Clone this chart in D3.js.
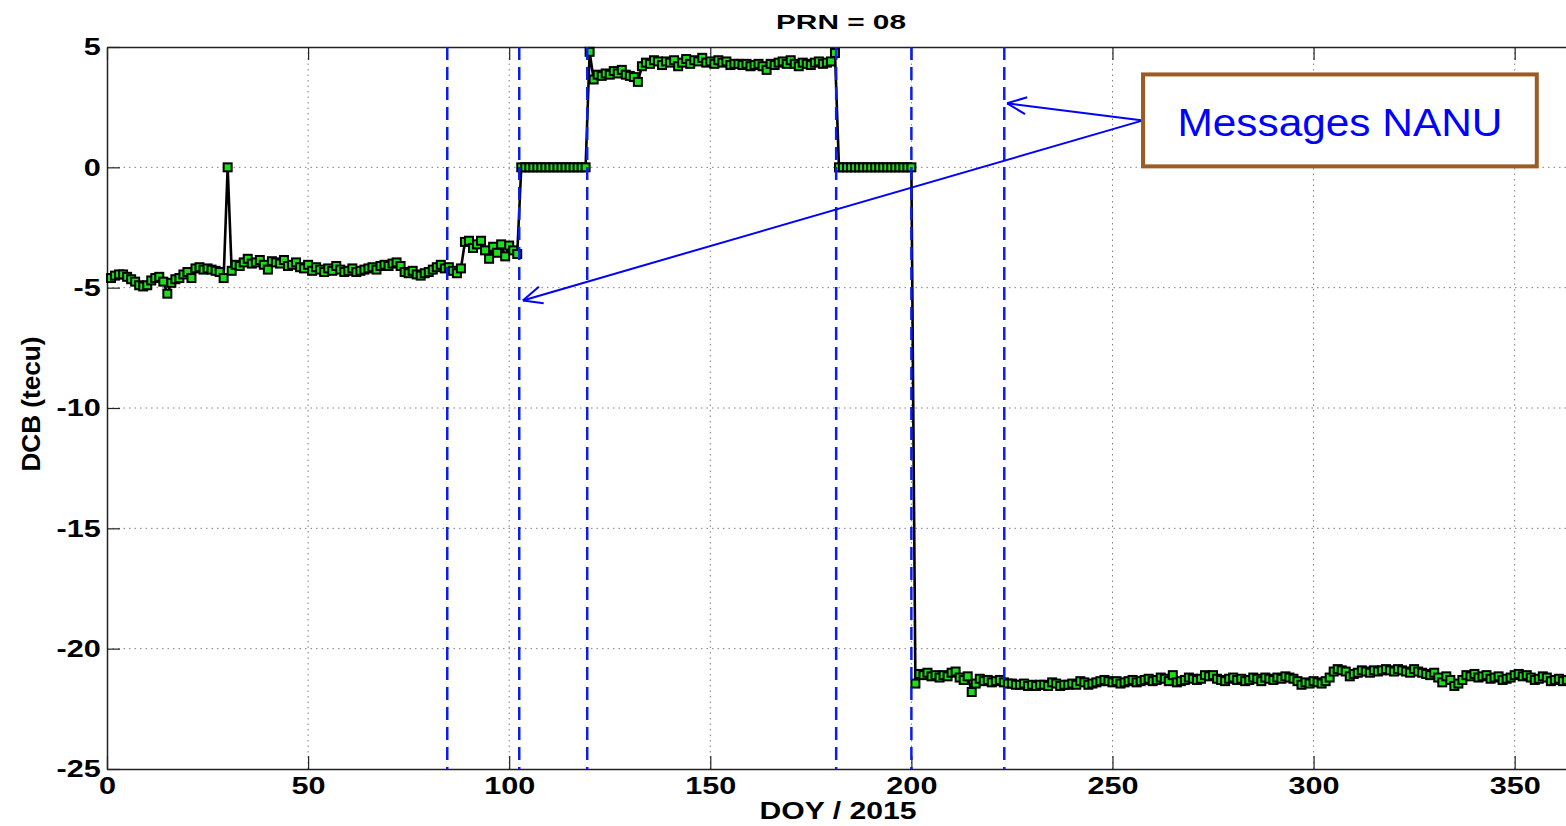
<!DOCTYPE html>
<html>
<head>
<meta charset="utf-8">
<script src="https://cdn.jsdelivr.net/npm/d3@7"></script>
<style>
html, body { margin: 0; padding: 0; background: #fff; overflow: hidden; }
svg { display: block; font-family: "Liberation Sans", Arial, sans-serif; }
</style>
</head>
<body>
<svg id="dcb-vis" width="1566" height="826"></svg>
<script>
// DCB of PRN 08, one value per day of year, starting at DOY 1
const firstDoy = 1;
const dcbValues = [
    -4.60, -4.50, -4.45, -4.45, -4.55, -4.65, -4.75, -4.90, -4.95, -4.90,   // 1-10
    -4.70, -4.60, -4.55, -4.75, -5.25, -4.80, -4.65, -4.60, -4.45, -4.35,   // 11-20
    -4.60, -4.20, -4.15, -4.25, -4.20, -4.25, -4.30, -4.35, -4.60, 0.00,    // 21-30
    -4.30, -4.05, -4.10, -3.95, -3.80, -4.00, -3.95, -3.85, -4.05, -4.25,   // 31-40
    -3.90, -3.95, -4.00, -3.85, -4.10, -4.05, -3.95, -4.15, -4.20, -4.05,   // 41-50
    -4.30, -4.15, -4.25, -4.35, -4.20, -4.30, -4.10, -4.25, -4.35, -4.30,   // 51-60
    -4.20, -4.35, -4.30, -4.25, -4.20, -4.15, -4.25, -4.10, -4.05, -4.10,   // 61-70
    -4.00, -3.95, -4.10, -4.35, -4.40, -4.30, -4.45, -4.50, -4.40, -4.35,   // 71-80
    -4.25, -4.15, -4.05, -4.20, -4.15, -4.30, -4.40, -4.20, -3.10, -3.05,   // 81-90
    -3.35, -3.20, -3.05, -3.45, -3.80, -3.30, -3.55, -3.20, -3.70, -3.25,   // 91-100
    -3.45, -3.60, 0, 0, 0, 0, 0, 0, 0, 0,                                   // 101-110
    0, 0, 0, 0, 0, 0, 0, 0, 0, 4.80,                                        // 111-120
    3.65, 3.85, 3.80, 3.90, 3.85, 4.00, 3.90, 4.05, 3.85, 3.80,             // 121-130
    3.75, 3.55, 4.20, 4.35, 4.30, 4.45, 4.40, 4.25, 4.40, 4.35,             // 131-140
    4.45, 4.20, 4.35, 4.50, 4.30, 4.45, 4.40, 4.55, 4.35, 4.40,             // 141-150
    4.30, 4.45, 4.35, 4.40, 4.25, 4.30, 4.30, 4.25, 4.30, 4.20,             // 151-160
    4.25, 4.30, 4.20, 4.05, 4.30, 4.25, 4.35, 4.40, 4.30, 4.45,             // 161-170
    4.30, 4.20, 4.35, 4.30, 4.25, 4.35, 4.40, 4.30, 4.35, 4.40,             // 171-180
    4.75, 0, 0, 0, 0, 0, 0, 0, 0, 0,                                        // 181-190
    0, 0, 0, 0, 0, 0, 0, 0, 0, 0,                                           // 191-200
    -21.45, -21.05, -21.10, -21.00, -21.15, -21.10, -21.20, -21.10, -21.15, -21.00, // 201-210
    -20.95, -21.20, -21.30, -21.15, -21.80, -21.45, -21.25, -21.35, -21.30, -21.40, // 211-220
    -21.35, -21.30, -21.40, -21.45, -21.45, -21.50, -21.50, -21.45, -21.55, -21.50, // 221-230
    -21.55, -21.50, -21.50, -21.55, -21.40, -21.45, -21.55, -21.50, -21.50, -21.45, // 231-240
    -21.50, -21.35, -21.40, -21.50, -21.45, -21.40, -21.35, -21.30, -21.35, -21.40, // 241-250
    -21.35, -21.45, -21.40, -21.35, -21.30, -21.40, -21.35, -21.30, -21.25, -21.35, // 251-260
    -21.30, -21.20, -21.25, -21.35, -21.10, -21.40, -21.35, -21.30, -21.20, -21.25, // 261-270
    -21.30, -21.25, -21.10, -21.15, -21.10, -21.25, -21.30, -21.35, -21.25, -21.20, // 271-280
    -21.30, -21.25, -21.35, -21.30, -21.20, -21.25, -21.35, -21.20, -21.25, -21.30, // 281-290
    -21.20, -21.25, -21.15, -21.20, -21.25, -21.35, -21.50, -21.40, -21.45, -21.35, // 291-300
    -21.40, -21.45, -21.35, -21.20, -20.95, -20.85, -20.90, -20.95, -21.15, -21.05, // 301-310
    -21.00, -20.90, -20.95, -21.00, -20.90, -20.95, -20.90, -20.85, -20.90, -20.95, // 311-320
    -20.85, -20.90, -20.95, -21.00, -20.85, -20.95, -21.00, -21.05, -21.10, -21.00, // 321-330
    -21.20, -21.40, -21.15, -21.30, -21.55, -21.45, -21.30, -21.10, -21.15, -21.05, // 331-340
    -21.20, -21.15, -21.10, -21.25, -21.20, -21.15, -21.30, -21.25, -21.20, -21.10, // 341-350
    -21.05, -21.15, -21.10, -21.20, -21.30, -21.25, -21.15, -21.20, -21.35, -21.30, // 351-360
    -21.25, -21.35, -21.30, -21.35, -21.30                                          // 361-365
];

// days of the NANU messages (blue dashed lines)
const nanuDays = [84.6, 102.5, 119.4, 181.3, 200, 223.1];

const xTicks = [0, 50, 100, 150, 200, 250, 300, 350];
const yTicks = [-25, -20, -15, -10, -5, 0, 5];
const xDomain = [0, 365];
const yDomain = [-25, 5];

const titleText = "PRN = 08";
const xLabel = "DOY / 2015";
const yLabel = "DCB (tecu)";
const noteText = "Messages NANU";

// annotation box corners and arrow tips, in data units
const noteBox = { x0: 257.6, x1: 355.5, y0: 3.86, y1: 0.04 };
const noteAnchor = [257.6, 1.95];
const arrowTips = [[223.8, 2.66], [103.4, -5.53]];

const svg = d3.select("svg#dcb-vis");
const bounds = { minX: 107, maxX: 1575, minY: 47, maxY: 769 };

const scaleX = d3.scaleLinear().domain(xDomain).range([bounds.minX, bounds.maxX]);
const scaleY = d3.scaleLinear().domain(yDomain).range([bounds.maxY, bounds.minY]);

const data = dcbValues.map((v, i) => ({ doy: firstDoy + i, dcb: v }));

// grid
const grid = svg.append("g").attr("class", "grid")
    .attr("stroke", "#808080").attr("stroke-width", 1).attr("stroke-dasharray", "1.5,4");
grid.selectAll("line.gx").data(xTicks.filter(d => d > xDomain[0]))
    .join("line").attr("class", "gx")
    .attr("x1", d => scaleX(d)).attr("x2", d => scaleX(d))
    .attr("y1", bounds.minY).attr("y2", bounds.maxY);
grid.selectAll("line.gy").data(yTicks.filter(d => d > yDomain[0] && d < yDomain[1]))
    .join("line").attr("class", "gy")
    .attr("y1", d => scaleY(d)).attr("y2", d => scaleY(d))
    .attr("x1", bounds.minX).attr("x2", bounds.maxX);

// axes
const fmt = d => String(d);
function styleAxis(g) {
    g.attr("font-family", null).attr("font-size", null);
    g.select(".domain").attr("stroke", "#222").attr("stroke-width", 1.5);
    g.selectAll(".tick line").attr("stroke", "#222").attr("stroke-width", 1.2);
    g.selectAll(".tick text")
        .attr("fill", "#000").attr("font-weight", "bold").attr("font-size", 24.5)
        .attr("transform", "scale(1.25,1)");
}

const xAxisG = svg.append("g").attr("transform", `translate(0 ${bounds.maxY})`)
    .call(d3.axisBottom(scaleX).tickValues(xTicks).tickSize(-13).tickSizeOuter(0).tickPadding(8).tickFormat(fmt));
styleAxis(xAxisG);

const topAxisG = svg.append("g").attr("transform", `translate(0 ${bounds.minY})`)
    .call(d3.axisTop(scaleX).tickValues(xTicks).tickSize(-13).tickSizeOuter(0).tickFormat(""));
styleAxis(topAxisG);

const yAxisG = svg.append("g").attr("transform", `translate(${bounds.minX} 0)`)
    .call(d3.axisLeft(scaleY).tickValues(yTicks).tickSize(-13).tickSizeOuter(0).tickPadding(5).tickFormat(fmt));
styleAxis(yAxisG);

// data line + markers
const line = d3.line().x(d => scaleX(d.doy)).y(d => scaleY(d.dcb));
svg.append("path").datum(data)
    .attr("fill", "none").attr("stroke", "#000").attr("stroke-width", 2.6)
    .attr("stroke-linejoin", "round")
    .attr("d", line);

const ms = 8;
svg.append("g").selectAll("rect").data(data).join("rect")
    .attr("x", d => scaleX(d.doy) - ms / 2)
    .attr("y", d => scaleY(d.dcb) - ms / 2)
    .attr("width", ms).attr("height", ms)
    .attr("fill", "#19e019").attr("stroke", "#000").attr("stroke-width", 2);

// NANU dashed lines
svg.append("g").selectAll("line").data(nanuDays).join("line")
    .attr("x1", d => scaleX(d)).attr("x2", d => scaleX(d))
    .attr("y1", bounds.minY).attr("y2", bounds.maxY)
    .attr("stroke", "#0a1cf0").attr("stroke-width", 2.5).attr("stroke-dasharray", "13,7");

// title and labels
svg.append("text").text(titleText)
    .attr("x", (bounds.minX + bounds.maxX) / 2).attr("y", 29)
    .attr("text-anchor", "middle").attr("font-weight", "bold").attr("font-size", 21)
    .attr("textLength", 130).attr("lengthAdjust", "spacingAndGlyphs");

svg.append("text").text(xLabel)
    .attr("x", 838).attr("y", 819)
    .attr("text-anchor", "middle").attr("font-weight", "bold").attr("font-size", 24)
    .attr("textLength", 157).attr("lengthAdjust", "spacingAndGlyphs");

svg.append("text").text(yLabel)
    .attr("transform", `translate(40 ${(bounds.minY + bounds.maxY) / 2 - 4}) scale(1.05,1) rotate(-90)`)
    .attr("text-anchor", "middle").attr("font-weight", "bold").attr("font-size", 25)
    .attr("textLength", 135).attr("lengthAdjust", "spacingAndGlyphs");

// annotation
const note = svg.append("g");
const bx0 = scaleX(noteBox.x0), bx1 = scaleX(noteBox.x1);
const by0 = scaleY(noteBox.y0), by1 = scaleY(noteBox.y1);

const ax = scaleX(noteAnchor[0]), ay = scaleY(noteAnchor[1]);
arrowTips.forEach(t => {
    const tx = scaleX(t[0]), ty = scaleY(t[1]);
    note.append("line")
        .attr("x1", ax).attr("y1", ay).attr("x2", tx).attr("y2", ty)
        .attr("stroke", "#0000ff").attr("stroke-width", 2);
    const ang = Math.atan2(ay - ty, ax - tx);
    const len = 21, spread = 0.42;
    [ang - spread, ang + spread].forEach(a => {
        note.append("line")
            .attr("x1", tx).attr("y1", ty)
            .attr("x2", tx + len * Math.cos(a)).attr("y2", ty + len * Math.sin(a))
            .attr("stroke", "#0000ff").attr("stroke-width", 2);
    });
});

note.append("rect")
    .attr("x", bx0).attr("y", by0).attr("width", bx1 - bx0).attr("height", by1 - by0)
    .attr("fill", "#fff").attr("stroke", "#9c5a24").attr("stroke-width", 4);
note.append("text").text(noteText)
    .attr("x", (bx0 + bx1) / 2).attr("y", by0 + 62)
    .attr("text-anchor", "middle").attr("fill", "#0000ff").attr("font-size", 38)
    .attr("textLength", 325).attr("lengthAdjust", "spacingAndGlyphs");
</script>
</body>
</html>
